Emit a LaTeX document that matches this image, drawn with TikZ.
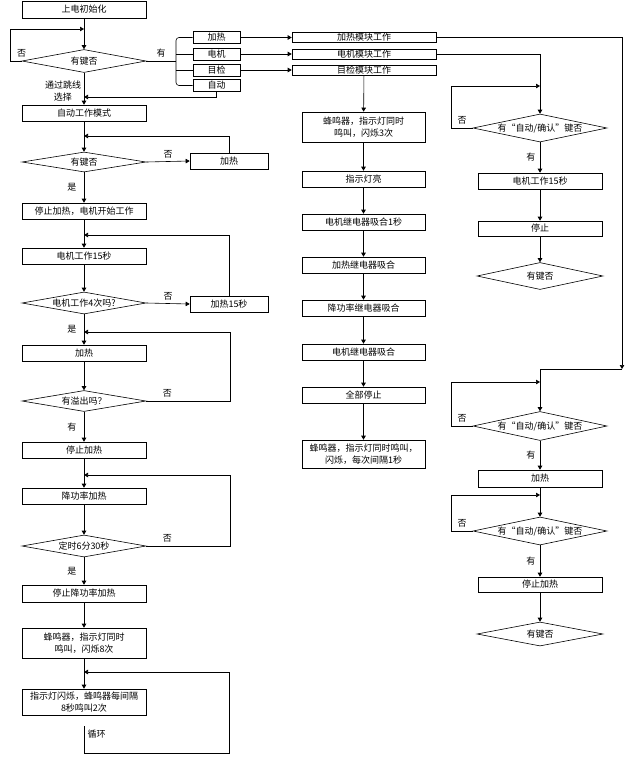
\documentclass[tikz,border=0pt]{standalone}
\usepackage{fontspec}
\setmainfont{Noto Sans CJK SC}
\usetikzlibrary{shapes.geometric,arrows.meta}

\begin{document}
\begin{tikzpicture}[x=1pt,y=-1pt,line width=0.6pt,
		font=\fontsize{9}{12}\selectfont,
		>={Triangle[length=4pt,width=4.5pt]},
		box/.style={draw,minimum width=124,minimum height=16,inner sep=0pt},
		sidebox/.style={draw,minimum width=78,minimum height=16,inner sep=0pt},
		tag/.style={draw,minimum width=47,minimum height=12,inner sep=0pt},
		modbox/.style={draw,minimum width=144,minimum height=10,inner sep=0pt},
		decision/.style={diamond,draw,aspect=5.6,inner sep=0pt,minimum width=124,minimum height=22},
		bigdecision/.style={diamond,draw,aspect=4.8,inner sep=0pt,minimum width=134,minimum height=28}]
		\useasboundingbox (0,0) rectangle (636,766);
		% left column
		\node[box,minimum height=17] (init) at (84,9.5) {上电初始化};
		\node[decision,minimum height=23] (key1) at (84,61) {有键否};
		\node[tag] (t_heat) at (216.5,37.5) {加热};
		\node[tag] (t_motor) at (216.5,54) {电机};
		\node[tag] (t_check) at (216.5,70) {目检};
		\node[tag] (t_auto) at (216.5,85.5) {自动};
		\node[align=center] (jumper) at (63,91) {通过跳线\\选择};
		\node[box] (auto) at (84,113) {自动工作模式};
		\node[decision,minimum height=20] (key2) at (84,162) {有键否};
		\node[sidebox] (heat1) at (229,161) {加热};
		\node[box] (stopheat) at (84,211) {停止加热，电机开始工作};
		\node[box] (motor15) at (84,256) {电机工作15秒};
		\node[decision] (key3) at (84,303) {电机工作4次吗?};
		\node[sidebox] (heat15) at (229,304) {加热15秒};
		\node[box] (heat2) at (84,353) {加热};
		\node[decision,minimum height=21] (key4) at (84,401) {有溢出吗？};
		\node[box] (stopheat2) at (84,450) {停止加热};
		\node[box] (lowpower) at (84,496) {降功率加热};
		\node[decision] (key5) at (84,546) {定时6分30秒};
		\node[box,minimum height=17] (stoplow) at (84,593.5) {停止降功率加热};
		\node[box,minimum height=30,align=center] (beep8) at (84,643) {蜂鸣器，指示灯同时\\鸣叫，闪烁8次};
		\node[box,minimum height=26,align=center] (flash) at (84,702) {指示灯闪烁，蜂鸣器每间隔\\8秒鸣叫2次};
		% middle column
		\node[modbox] (m_heat) at (364,37.5) {加热模块工作};
		\node[modbox] (m_motor) at (364,54) {电机模块工作};
		\node[modbox] (m_check) at (364,70) {目检模块工作};
		\node[box,minimum width=123,minimum height=30,align=center] (beep3) at (363.5,127) {蜂鸣器，指示灯同时\\鸣叫，闪烁3次};
		\node[box,minimum width=123] (lamp) at (363.5,179) {指示灯亮};
		\node[box,minimum width=123] (relay1) at (363.5,222) {电机继电器吸合1秒};
		\node[box,minimum width=123] (relay2) at (363.5,265) {加热继电器吸合};
		\node[box,minimum width=123] (relay3) at (363.5,308) {降功率继电器吸合};
		\node[box,minimum width=123] (relay4) at (363.5,352) {电机继电器吸合};
		\node[box,minimum width=123] (allstop) at (363.5,395) {全部停止};
		\node[box,minimum width=123,minimum height=28,align=center] (beep1) at (363.5,454) {蜂鸣器，指示灯同时鸣叫，\\闪烁，每次间隔1秒};
		% right column
		\node[bigdecision] (rkey1) at (540,128) {有“自动/确认”键否};
		\node[box] (rmotor) at (540,181) {电机工作15秒};
		\node[box,minimum height=15] (rstop) at (540,228.5) {停止};
		\node[decision,minimum width=126,minimum height=27,aspect=4.8] (rkey2) at (540,276) {有键否};
		\node[bigdecision,minimum height=29] (rkey3) at (540,426) {有“自动/确认”键否};
		\node[box,minimum height=17] (rheat) at (540,478.5) {加热};
		\node[bigdecision] (rkey4) at (540,531) {有“自动/确认”键否};
		\node[box,minimum height=15] (rstopheat) at (540,584.5) {停止加热};
		\node[decision,minimum width=126,minimum height=24,aspect=4.8] (rkey5) at (540,634) {有键否};
		% joins
		\coordinate (c_loop1) at (84,29);
		\coordinate (fork) at (176,61);
		\coordinate (c_auto) at (84,97);
		\coordinate (c_loop2) at (84,136);
		\coordinate (c_loop3) at (84,235);
		\coordinate (c_loop4) at (84,332);
		\coordinate (c_loop5) at (84,475);
		\coordinate (c_loop6) at (84,672);
		\coordinate (c_cycle) at (84,726);
		\coordinate (r_loop1) at (540,86);
		\coordinate (r_turn) at (622,369);
		\coordinate (r_loop2) at (540,382);
		\coordinate (r_loop3) at (540,495);
		% left connectors
		\draw[->] (init) -- (key1);
		\draw[->] (key1.west) -- node[above,pos=0] {否} ++(-11,0) |- (c_loop1);
		\draw (key1.east) -- node[above] {有} (fork);
		\draw[rounded corners=3pt] (t_heat.west) -| (fork) |- (t_auto.west);
		\draw (t_motor.west) -- (t_motor.west -| fork);
		\draw (t_check.west) -- (t_check.west -| fork);
		\draw[->] (t_heat.east) -- (m_heat.west);
		\draw[->] (t_motor.east) -- (m_motor.west);
		\draw[->] (t_check.east) -- (m_check.west);
		\draw[->] (t_auto.south) |- (c_auto);
		\draw[->] (key1) -- (auto);
		\draw[->] (auto) -- (key2);
		\draw[->] (key2.east) -- node[above] {否} (heat1.west);
		\draw[->] (heat1.north) |- (c_loop2);
		\draw[->] (key2) -- node[left=4pt] {是} (stopheat);
		\draw[->] (stopheat) -- (motor15);
		\draw[->] (motor15) -- (key3);
		\draw[->] (key3.east) -- node[above] {否} (heat15.west);
		\draw[->] (heat15.north) |- (c_loop3);
		\draw[->] (key3) -- node[left=4pt] {是} (heat2);
		\draw[->] (heat2) -- (key4);
		\draw[->] (key4.east) -- node[above,pos=0.25] {否} ++(84,0) |- (c_loop4);
		\draw[->] (key4) -- node[left=4pt] {有} (stopheat2);
		\draw[->] (stopheat2) -- (lowpower);
		\draw[->] (lowpower) -- (key5);
		\draw[->] (key5.east) -- node[above,pos=0.25] {否} ++(84,0) |- (c_loop5);
		\draw[->] (key5) -- node[left=4pt] {是} (stoplow);
		\draw[->] (stoplow) -- (beep8);
		\draw[->] (beep8) -- (flash);
		\draw[->] (c_cycle) -- node[right,pos=0.3] {循环} ++(0,27) -| ++(145,-81) -- (c_loop6);
		% middle connectors
		\draw[->] (m_check) -- (beep3);
		\draw[->] (beep3) -- (lamp);
		\draw[->] (lamp) -- (relay1);
		\draw[->] (relay1) -- (relay2);
		\draw[->] (relay2) -- (relay3);
		\draw[->] (relay3) -- (relay4);
		\draw[->] (relay4) -- (allstop);
		\draw[->] (allstop) -- (beep1);
		% right connectors
		\draw[->] (m_motor.east) -| (rkey1.north);
		\draw[->] (rkey1.west) -- node[above] {否} ++(-21,0) |- (r_loop1);
		\draw[->] (rkey1) -- node[left=1pt] {有} (rmotor);
		\draw[->] (rmotor) -- (rstop);
		\draw[->] (rstop) -- (rkey2);
		\draw[->] (m_heat.east) -| (r_turn);
		\draw[->] (r_turn) -| (rkey3.north);
		\draw[->] (rkey3.west) -- node[above] {否} ++(-21,0) |- (r_loop2);
		\draw[->] (rkey3) -- node[left=1pt] {有} (rheat);
		\draw[->] (rheat) -- (rkey4);
		\draw[->] (rkey4.west) -- node[above] {否} ++(-21,0) |- (r_loop3);
		\draw[->] (rkey4) -- node[left=1pt] {有} (rstopheat);
		\draw[->] (rstopheat) -- (rkey5);
	\end{tikzpicture}
\end{document}
